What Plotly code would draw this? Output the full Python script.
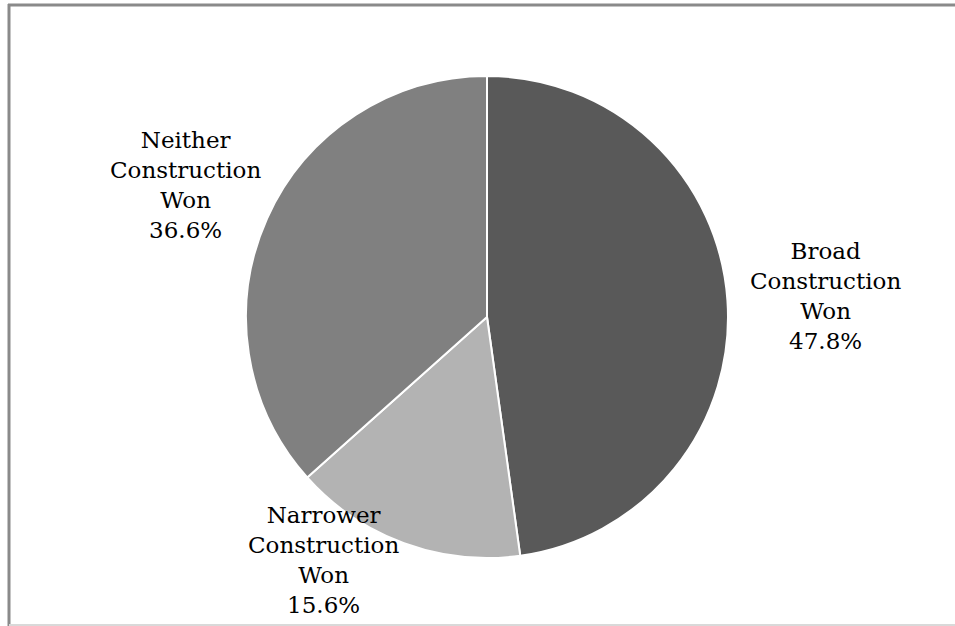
import plotly.graph_objects as go

# ---- data ----
categories = ["Broad Construction Won", "Narrower Construction Won", "Neither Construction Won"]
shares = [47.8, 15.6, 36.6]
slice_colors = ["#595959", "#b3b3b3", "#808080"]
# label centre positions in pixels (x, y from top)
label_pos_px = [(825, 296), (323, 560), (185, 185)]

W, H = 955, 626
cx, cy, r = 487, 317, 241

fig = go.Figure(go.Pie(
    labels=categories,
    values=shares,
    sort=False,
    direction="clockwise",
    rotation=0,
    marker=dict(colors=slice_colors, line=dict(color="white", width=2)),
    textinfo="none",
    hoverinfo="label+percent",
    domain=dict(x=[(cx - r) / W, (cx + r) / W], y=[1 - (cy + r) / H, 1 - (cy - r) / H]),
    showlegend=False,
))

for cat, val, (px, py) in zip(categories, shares, label_pos_px):
    words = cat.split(" ")
    text = "<br>".join([words[0], words[1], words[2], f"{val:.1f}%"])
    fig.add_annotation(
        x=px / W, y=1 - py / H, xref="paper", yref="paper",
        text=text, showarrow=False, align="center",
        xanchor="center", yanchor="middle",
        font=dict(family="DejaVu Serif", size=23, color="#000000"),
    )

# frame
fig.add_shape(type="line", xref="paper", yref="paper",
              x0=8 / W, x1=1.01, y0=1 - 5 / H, y1=1 - 5 / H,
              line=dict(color="#8a8a8a", width=3))
fig.add_shape(type="line", xref="paper", yref="paper",
              x0=9 / W, x1=9 / W, y0=1 - 4 / H, y1=1 - 626 / H,
              line=dict(color="#8a8a8a", width=3))
fig.add_shape(type="line", xref="paper", yref="paper",
              x0=9 / W, x1=1.01, y0=1 - 625 / H, y1=1 - 625 / H,
              line=dict(color="#d9d9d9", width=2))

fig.update_layout(
    width=W, height=H,
    margin=dict(l=0, r=0, t=0, b=0),
    paper_bgcolor="white", plot_bgcolor="white",
)

fig.write_html("out.html")
